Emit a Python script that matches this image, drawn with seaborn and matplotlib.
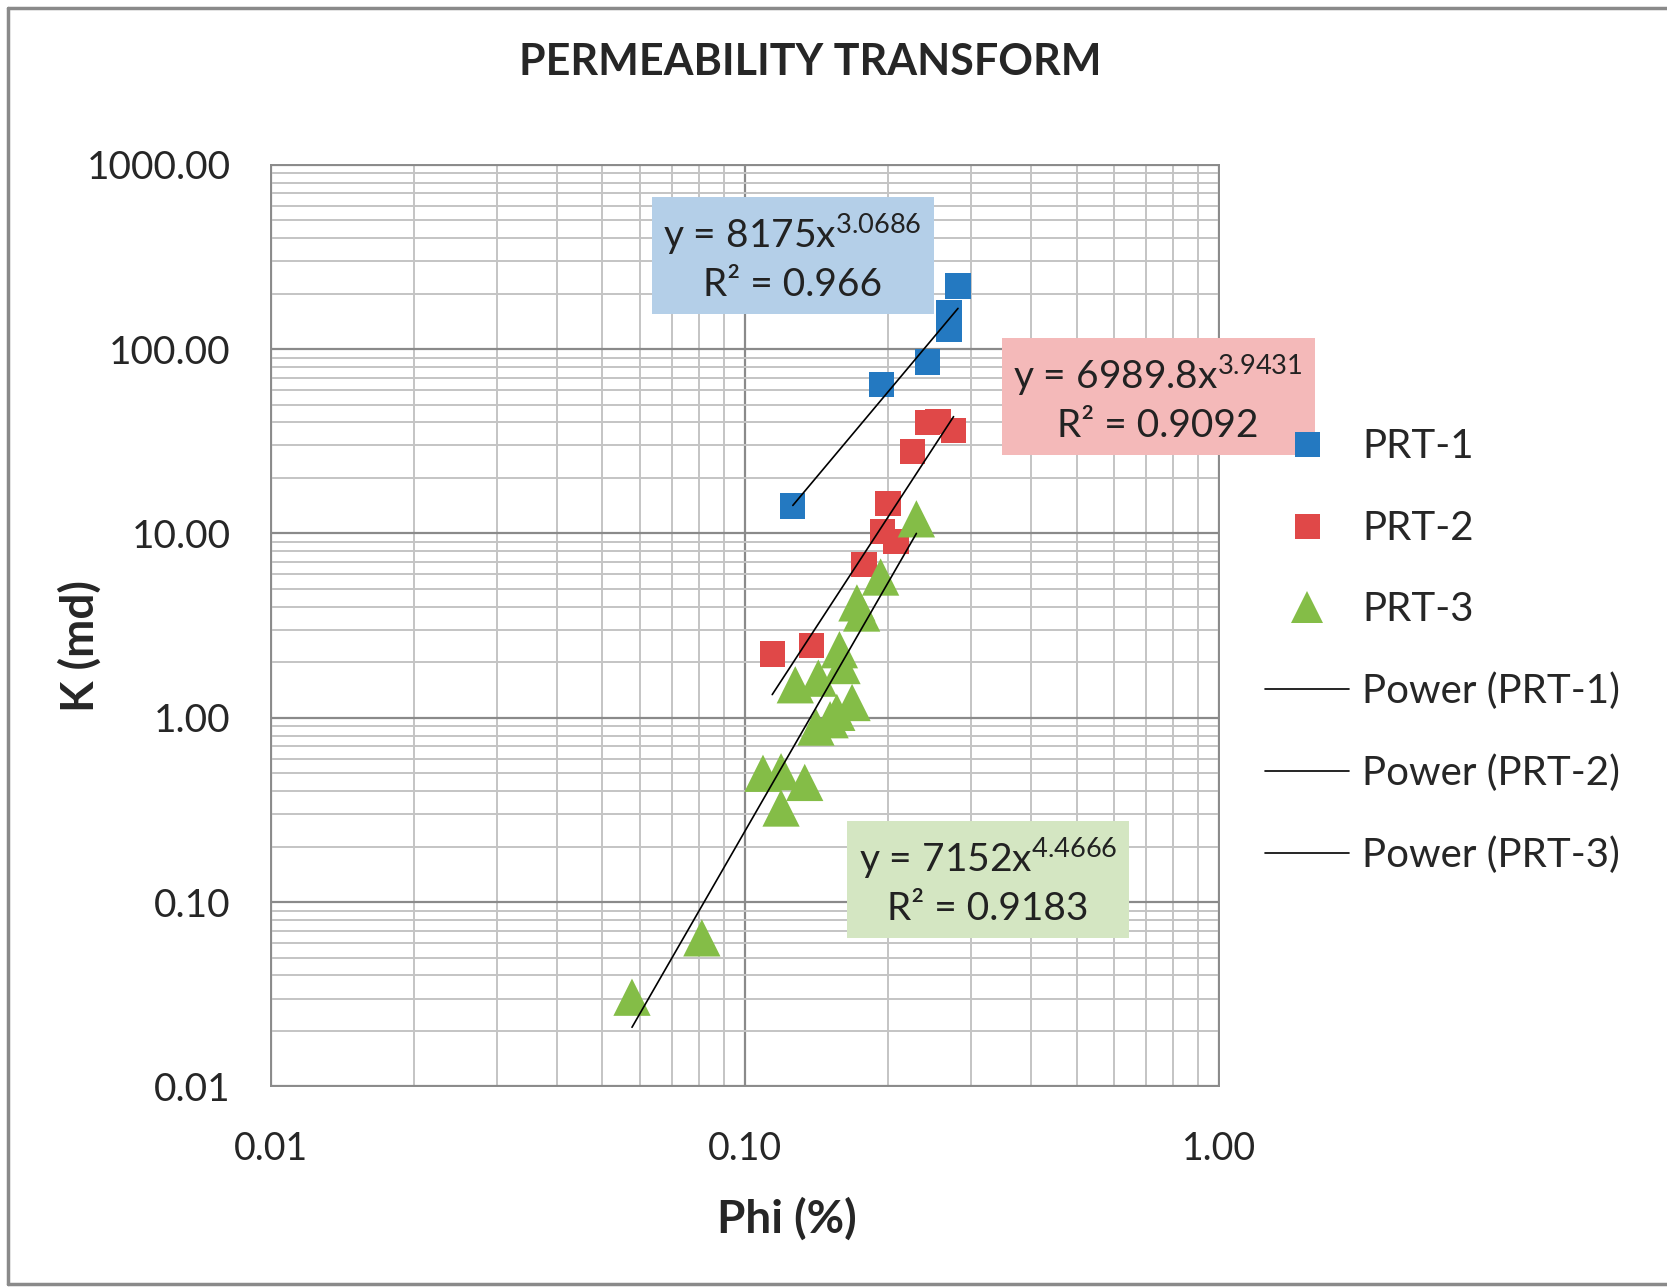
import numpy as np
import pandas as pd
import matplotlib
matplotlib.use("Agg")
import matplotlib.pyplot as plt
import seaborn as sns
from matplotlib.lines import Line2D
from matplotlib.ticker import FixedLocator, NullFormatter

# ── data ──────────────────────────────────────────────────────────
prt1_phi = [0.126, 0.194, 0.242, 0.269, 0.269, 0.281]
prt1_k   = [14.1, 64, 85, 128, 158, 220]

prt2_phi = [0.114, 0.138, 0.178, 0.195, 0.208, 0.200, 0.225, 0.242, 0.255, 0.275]
prt2_k   = [2.22, 2.47, 6.8, 10.2, 9.0, 14.5, 27.7, 40, 40.6, 36]

prt3_phi = [0.0577, 0.081, 0.109, 0.119, 0.119, 0.1335, 0.1275, 0.1426, 0.141,
            0.151, 0.156, 0.168, 0.158, 0.160, 0.172, 0.176, 0.193, 0.2296]
prt3_k   = [0.0305, 0.064, 0.50, 0.51, 0.324, 0.446, 1.51, 1.64, 0.89,
            0.976, 1.07, 1.21, 2.34, 1.92, 4.2, 3.7, 5.8, 12.0]

# power trendlines y = a * x^b as printed on the chart
fit_a   = [8175, 6989.8, 7152]
fit_b   = [3.0686, 3.9431, 4.4666]
fit_r2  = ['0.966', '0.9092', '0.9183']
fit_a_txt = ['8175', '6989.8', '7152']

SERIES = ['PRT-1', 'PRT-2', 'PRT-3']
COLORS = {'PRT-1': '#2479C1', 'PRT-2': '#E04848', 'PRT-3': '#84BD47'}
MARKERS = {'PRT-1': 's', 'PRT-2': 's', 'PRT-3': '^'}
SIZES = {'PRT-1': 330, 'PRT-2': 330, 'PRT-3': 720}
BOXES = {'PRT-1': '#B4CFE8', 'PRT-2': '#F4B9B9', 'PRT-3': '#D4E6C2'}

df = pd.concat([
    pd.DataFrame({'phi': prt1_phi, 'k': prt1_k, 'set': 'PRT-1'}),
    pd.DataFrame({'phi': prt2_phi, 'k': prt2_k, 'set': 'PRT-2'}),
    pd.DataFrame({'phi': prt3_phi, 'k': prt3_k, 'set': 'PRT-3'}),
], ignore_index=True)

sns.set_style('white')
FONT = ['Lato', 'DejaVu Sans']
plt.rcParams['font.family'] = FONT
plt.rcParams['mathtext.fontset'] = 'custom'
plt.rcParams['mathtext.rm'] = 'Lato'
plt.rcParams['mathtext.default'] = 'regular'

fig = plt.figure(figsize=(16.67, 12.87), dpi=100)
ax = fig.add_axes([0.1626, 0.1558, 0.5689, 0.7162])
ax.set_xscale('log'); ax.set_yscale('log')
ax.set_xlim(0.01, 1.0); ax.set_ylim(0.01, 1000)

# grid
ax.xaxis.set_major_locator(FixedLocator([0.01, 0.1, 1.0]))
ax.yaxis.set_major_locator(FixedLocator([0.01, 0.1, 1, 10, 100, 1000]))
ax.xaxis.set_minor_locator(matplotlib.ticker.LogLocator(base=10, subs=np.arange(2, 10)))
ax.yaxis.set_minor_locator(matplotlib.ticker.LogLocator(base=10, subs=np.arange(2, 10)))
ax.xaxis.set_minor_formatter(NullFormatter()); ax.yaxis.set_minor_formatter(NullFormatter())
ax.set_xticklabels(['0.01', '0.10', '1.00'])
ax.set_yticklabels(['0.01', '0.10', '1.00', '10.00', '100.00', '1000.00'])
ax.grid(which='minor', color='#C4C4C4', linewidth=1.4)
ax.grid(which='major', color='#8A8A8A', linewidth=1.6)
ax.set_axisbelow(True)
ax.tick_params(which='both', length=0)
ax.tick_params(axis='x', pad=32, labelsize=27)
ax.tick_params(axis='y', pad=29, labelsize=28)
for sp in ax.spines.values():
    sp.set_color('#8A8A8A'); sp.set_linewidth(1.4)

handles = []
for i, name in enumerate(SERIES):
    sub = df[df['set'] == name]
    sns.scatterplot(data=sub, x='phi', y='k', marker=MARKERS[name], s=SIZES[name],
                    color=COLORS[name], edgecolor='none', linewidth=0, ax=ax,
                    zorder=3, legend=False)
    handles.append(Line2D([], [], linestyle='none', marker=MARKERS[name],
                          markersize=18 if MARKERS[name] == 's' else 23,
                          color=COLORS[name], markeredgewidth=0, label=name))

for i, name in enumerate(SERIES):
    sub = df[df['set'] == name]
    xs = np.geomspace(sub['phi'].min(), sub['phi'].max(), 60)
    ax.plot(xs, fit_a[i] * xs ** fit_b[i], color='black', linewidth=1.2, zorder=4)
for name in SERIES:
    handles.append(Line2D([], [], color='black', linewidth=1.2, label=f'Power ({name})'))

# equation labels
box_pos = {'PRT-1': (0.550, 0.900), 'PRT-2': (0.9355, 0.747), 'PRT-3': (0.756, 0.223)}
for i, name in enumerate(SERIES):
    txt = f'y = {fit_a_txt[i]}x$^{{{fit_b[i]:.4f}}}$\nR² = {fit_r2[i]}'
    ax.text(*box_pos[name], txt, transform=ax.transAxes, ha='center', va='center',
            multialignment='center', fontsize=28, color='#222222', zorder=6,
            clip_on=False, linespacing=1.35,
            bbox=dict(boxstyle='square,pad=0.3', facecolor=BOXES[name], edgecolor='none'))

ax.set_xlabel(''); ax.set_ylabel('')
leg = ax.legend(handles=handles, loc='center left', bbox_to_anchor=(0.737, 0.494),
                bbox_transform=fig.transFigure, frameon=False, fontsize=29,
                handlelength=2.1, handletextpad=0.32, labelspacing=1.1)
leg.set_zorder(8)

fig.text(0.486, 0.952, 'PERMEABILITY TRANSFORM', ha='center', va='center',
         fontsize=31, fontweight='bold')
fig.text(0.472, 0.053, 'Phi (%)', ha='center', va='center', fontsize=33, fontweight='bold')
fig.text(0.048, 0.498, 'K (md)', ha='center', va='center', fontsize=33,
         fontweight='bold', rotation=90)

# outer chart frame
for xy in [([0.0045, 0.0045], [0.0025, 0.994]), ([0.0045, 1.0], [0.994, 0.994]),
           ([0.0045, 1.0], [0.0025, 0.0025])]:
    fig.add_artist(Line2D(*xy, color='#8A8A8A', linewidth=2.5, transform=fig.transFigure))

fig.savefig('out.png', dpi=100)
